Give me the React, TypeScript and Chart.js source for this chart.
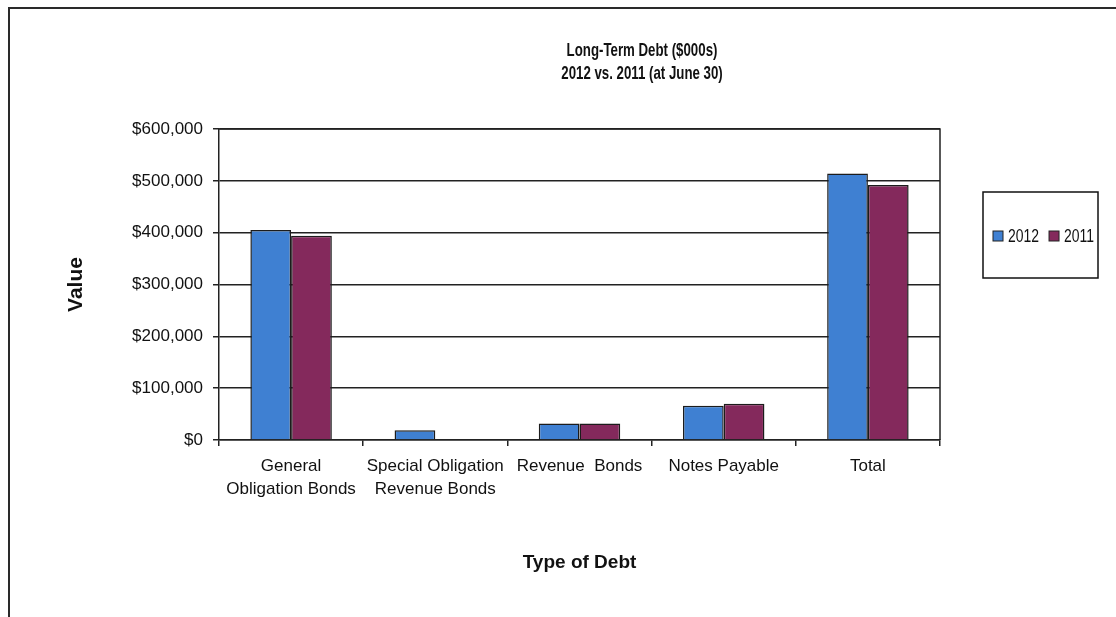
import React, { useEffect, useRef } from "react";
import { Chart, registerables } from "chart.js";

Chart.register(...registerables);

const categories: (string | string[])[] = [
  ["General", "Obligation Bonds"],
  ["Special Obligation", "Revenue Bonds"],
  "Revenue  Bonds",
  "Notes Payable",
  "Total",
];
const seriesLabels = ["2012", "2011"];
const values2012 = [405000, 19000, 32000, 66000, 514000];
const values2011 = [394000, 0, 32000, 70000, 492000];
const yTickValues = [0, 100000, 200000, 300000, 400000, 500000, 600000];
const titleLines = ["Long-Term Debt ($000s)", "2012 vs. 2011 (at June 30)"];
const xTitle = "Type of Debt";
const yTitle = "Value";

const BLUE = "#3f80d2";
const MAROON = "#84295c";

export default function App() {
  const ref = useRef<HTMLCanvasElement | null>(null);

  useEffect(() => {
    if (!ref.current) return;
    const regular = "'Liberation Sans', Arial, sans-serif";

    const decor = {
      id: "decor",
      afterDraw(chart: any) {
        const ctx = chart.ctx as CanvasRenderingContext2D;
        const ca = chart.chartArea;
        ctx.save();
        // outer frame
        ctx.strokeStyle = "#2a2a2a";
        ctx.lineWidth = 2;
        ctx.beginPath();
        ctx.moveTo(9, 700);
        ctx.lineTo(9, 8);
        ctx.lineTo(1200, 8);
        ctx.stroke();
        // plot area frame (right & top)
        ctx.lineWidth = 1.5;
        ctx.strokeStyle = "#222";
        ctx.beginPath();
        ctx.moveTo(ca.left, ca.top);
        ctx.lineTo(ca.right, ca.top);
        ctx.lineTo(ca.right, ca.bottom);
        ctx.stroke();
        // title (condensed look)
        ctx.fillStyle = "#111";
        ctx.textAlign = "center";
        ctx.textBaseline = "middle";
        ctx.font = `bold 18.5px ${regular}`;
        const sx = 0.717;
        ctx.save();
        ctx.scale(sx, 1);
        ctx.fillText(titleLines[0], 642 / sx, 51);
        ctx.fillText(titleLines[1], 642 / sx, 74);
        ctx.restore();
        // legend
        const bx = 983, by = 192, bw = 115, bh = 86;
        ctx.lineWidth = 1.5;
        ctx.strokeStyle = "#111";
        ctx.strokeRect(bx, by, bw, bh);
        ctx.font = `18.5px ${regular}`;
        ctx.textAlign = "left";
        const lsx = 0.754;
        let x = 993;
        const cy = 236;
        chart.data.datasets.forEach((ds: any) => {
          ctx.fillStyle = ds.backgroundColor;
          ctx.fillRect(x, cy - 5, 10, 10);
          ctx.lineWidth = 1;
          ctx.strokeStyle = "#222";
          ctx.strokeRect(x, cy - 5, 10, 10);
          ctx.fillStyle = "#111";
          const tx = x + 15;
          ctx.save();
          ctx.scale(lsx, 1);
          ctx.fillText(ds.label, tx / lsx, cy + 1);
          ctx.restore();
          x = tx + ctx.measureText(ds.label).width * lsx + 10;
        });
        ctx.restore();
      },
    };

    const chart = new Chart(ref.current, {
      type: "bar",
      data: {
        labels: categories,
        datasets: [
          {
            label: seriesLabels[0],
            data: values2012,
            backgroundColor: BLUE,
            borderColor: "#1c1c1c",
            borderWidth: 1.5,
            categoryPercentage: 0.565,
            barPercentage: 1,
          },
          {
            label: seriesLabels[1],
            data: values2011,
            backgroundColor: MAROON,
            borderColor: "#1c1c1c",
            borderWidth: 1.5,
            categoryPercentage: 0.565,
            barPercentage: 1,
          },
        ],
      },
      options: {
        responsive: false,
        animation: false,
        layout: { padding: { top: 129, right: 176, left: 0, bottom: 0 } },
        plugins: {
          legend: { display: false },
          title: { display: false },
          tooltip: { enabled: false },
        },
        scales: {
          x: {
            afterFit(scale: any) {
              scale.height = 177;
            },
            grid: {
              drawOnChartArea: false,
              drawTicks: true,
              tickLength: 6,
              color: "#222",
              lineWidth: 1.5,
            },
            border: { display: true, color: "#222", width: 1.5 },
            ticks: {
              color: "#111",
              padding: 9,
              maxRotation: 0,
              autoSkip: false,
              font: { family: regular, size: 17, lineHeight: 1.35 },
            },
            title: {
              display: true,
              text: xTitle,
              color: "#111",
              font: { family: regular, size: 19, weight: "bold", lineHeight: 1.2 },
              padding: { top: 0, bottom: 43 },
            },
          },
          y: {
            min: 0,
            max: 600000,
            afterFit(scale: any) {
              scale.width = 219;
            },
            afterBuildTicks(scale: any) {
              scale.ticks = yTickValues.map((v) => ({ value: v }));
            },
            grid: {
              color: "#222",
              lineWidth: 1.5,
              tickLength: 6,
              drawTicks: true,
            },
            border: { display: true, color: "#222", width: 1.5 },
            ticks: {
              color: "#111",
              padding: 10,
              font: { family: regular, size: 17 },
              callback: (v: any) => "$" + Number(v).toLocaleString("en-US"),
            },
            title: {
              display: true,
              text: yTitle,
              color: "#111",
              font: { family: regular, size: 21, weight: "bold", lineHeight: 1.2 },
              padding: { top: 64, bottom: 0 },
            },
          },
        },
      },
      plugins: [decor],
    });
    return () => chart.destroy();
  }, []);

  return (
    <div style={{ position: "absolute", left: 0, top: 0, width: 1116, height: 617, background: "#fff" }}>
      <canvas ref={ref} width={1116} height={617} style={{ display: "block" }} />
    </div>
  );
}
